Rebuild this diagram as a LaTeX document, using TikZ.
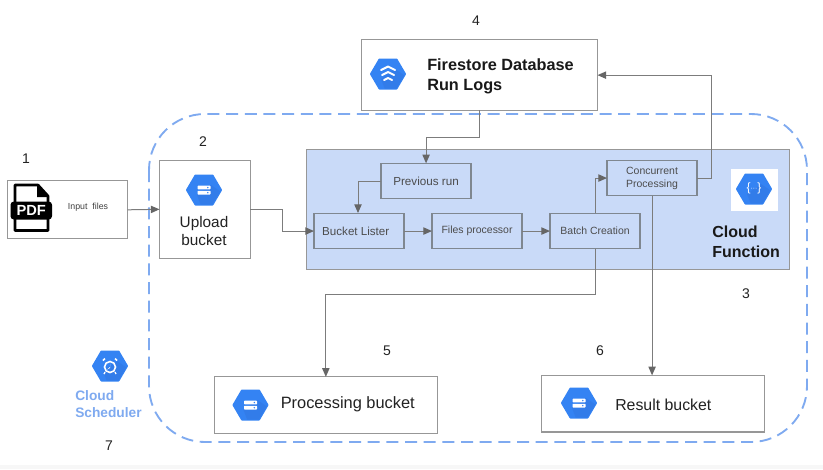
\documentclass[tikz,border=0pt]{standalone}
\usepackage{fontspec}
\setmainfont{Liberation Sans}
\usetikzlibrary{arrows.meta,calc}
\definecolor{linegray}{HTML}{979797}
\definecolor{innergray}{HTML}{7F8790}
\definecolor{arrowgray}{HTML}{666666}
\definecolor{connline}{HTML}{7C7C7C}
\definecolor{panelblue}{HTML}{C9DAF8}
\definecolor{dashblue}{HTML}{7FAAF0}
\definecolor{hexblue}{HTML}{3483F3}
\definecolor{hexshade}{HTML}{2F6FD8}
\definecolor{txt}{HTML}{222222}
\tikzset{
  box/.style={draw=linegray,line width=1pt,fill=white,inner sep=0pt,outer sep=0pt,align=center,text=txt},
  inner/.style={box,draw=innergray,fill=panelblue,minimum width=67.6pt,minimum height=26.6pt,font=\fontsize{7.85}{9.75}\selectfont,text=black!70},
  conn/.style={draw=connline,line width=0.75pt,-{Triangle[length=6.5pt,width=5.5pt,color=arrowgray,fill=arrowgray]}},
  num/.style={font=\fontsize{10.5}{12}\selectfont,text=txt,inner sep=0pt},
  title/.style={font=\fontsize{12.2}{15}\selectfont\bfseries,text=black!90,align=left,inner sep=0pt},
  big/.style={font=\fontsize{11.5}{13.5}\selectfont,text=txt,inner sep=0pt,align=center},
  hexfill/.style={fill=hexblue,draw=hexblue,line width=1.5pt,line join=round},
}
\newcommand{\hexshape}[2]{%
  \path[hexfill] (#1-17,#2) -- (#1-8.5,#2-14.5) -- (#1+8.5,#2-14.5) -- (#1+17,#2) -- (#1+8.5,#2+14.5) -- (#1-8.5,#2+14.5) -- cycle;
  \begin{scope}
    \clip (#1-17,#2) -- (#1-8.5,#2-14.5) -- (#1+8.5,#2-14.5) -- (#1+17,#2) -- (#1+8.5,#2+14.5) -- (#1-8.5,#2+14.5) -- cycle;
    \fill[hexshade,opacity=.35] (#1+7,#2-5) -- (#1+20,#2+4) -- (#1+10,#2+18) -- (#1-2,#2+18) -- (#1-7,#2+5) -- cycle;
  \end{scope}}
\newcommand{\bucketicon}[2]{%
  \hexshape{#1}{#2}
  \fill[white,rounded corners=0.5pt] (#1-6.5,#2-4.4) rectangle (#1+6.5,#2-0.6);
  \fill[white,rounded corners=0.5pt] (#1-6.5,#2+0.8) rectangle (#1+6.5,#2+4.6);
  \fill[hexblue] (#1+3.8,#2-2.5) circle (0.8) (#1+3.8,#2+2.7) circle (0.8);}
\begin{document}
\begin{tikzpicture}[x=0.75pt,y=-0.75pt]
\useasboundingbox (0,0) rectangle (823,469);
\fill[white] (0,0) rectangle (823,469);
\fill[black!3] (0,465) rectangle (823,469);

% scheduler boundary
\draw[dashblue,line width=1.4pt,dash pattern=on 9pt off 5pt,rounded corners=42pt] (149,114) rectangle (807,442);

% panel
\node[box,fill=panelblue,minimum width=362pt,minimum height=90pt,anchor=north west] (panel) at (306.5,149.3) {};

% boxes
\node[box,minimum width=90pt,minimum height=43.5pt,anchor=north west] (input) at (7.5,180.8) {};
\node[box,minimum width=68pt,minimum height=73.5pt,anchor=north west] (upload) at (159.5,160.3) {};
\node[box,minimum width=177pt,minimum height=53pt,anchor=north west] (fire) at (361.5,39.8) {};
\node[box,minimum width=167pt,minimum height=42.5pt,anchor=north west] (proc) at (214.5,376.8) {};
\node[box,minimum width=167pt,minimum height=42.5pt,anchor=north west] (result) at (541.5,375.3) {};

\node[inner,anchor=north west,font=\fontsize{8.75}{11}\selectfont] (prev) at (381,163.3) {Previous run};
\node[inner,anchor=north west,font=\fontsize{8.7}{11}\selectfont] (lister) at (314,213.3) {Bucket Lister\hspace{5pt}};
\node[inner,anchor=north west] (files) at (432,213.3) {Files processor};
\node[inner,anchor=north west] (batch) at (550,213.3) {Batch Creation};
\node[inner,anchor=north west] (conc) at (607,160.3) {Concurrent\\Processing};

% connectors
\draw[conn] (input.east) -- (upload.west);
\draw[conn] (upload.east) -- ++(32,0) |- (lister.west);
\draw[conn] (fire.south) -- ++(0,27) -| (prev.north);
\draw[conn] (prev.west) -- ++(-23,0) -- ++(0,32);
\draw[conn] (lister.east) -- (files.west);
\draw[conn] (files.east) -- (batch.west);
\draw[conn] (batch.north) |- (conc.west);
\draw[conn] (conc.east) -- ++(14,0) |- (fire.east);
\draw[conn] (batch.south) -- ++(0,46) -| (proc.north);
\draw[conn] (conc.south) -- (conc.south |- result.north);

% PDF icon
\draw[black,line width=2pt,line join=round,fill=white] (15,185) -- (38,185) -- (48,196) -- (48,230.5) -- (15,230.5) -- cycle;
\fill[black] (37,184) -- (49,197) -- (37,197) -- cycle;
\fill[black,rounded corners=2.5pt] (10.5,201.5) rectangle (52,219.5);
\node[inner sep=0pt,text=white,font=\fontsize{11}{11}\selectfont\bfseries] (pdftext) at (31.2,210.8) {PDF};
\node[inner sep=0pt,font=\fontsize{6.6}{8}\selectfont,text=black!75] (inputlabel) at (88,207) {Input\ \ files};

% upload
\bucketicon{204}{190}
\node[big] (uploadlabel) at (204,231.5) {Upload\\bucket};

% firestore
\hexshape{388}{74}
\begin{scope}[white,line width=1.5pt,line cap=round,line join=round]
  \draw (381,70) -- (388,66.5) -- (395,70);
  \draw (382,75) -- (388,72) -- (394,75);
  \draw (384,80) -- (388,78) -- (392,80);
\end{scope}
\node[title,anchor=west] (firelabel) at (427,76.5) {Firestore Database\\Run Logs};

% cloud function icon
\fill[white] (731,169) rectangle (778,211);
\hexshape{754}{189}
\node[inner sep=0pt,text=white,font=\fontsize{9}{9}\selectfont] (fnicon) at (754,188.5) {\{\raisebox{0.1ex}{\fontsize{5}{5}\selectfont···}\}};
\node[title,anchor=west,font=\fontsize{12}{15}\selectfont\bfseries] (fnlabel) at (712,241.5) {Cloud\\Function};

% processing & result
\bucketicon{250.5}{405}
\node[big,anchor=west,font=\fontsize{12.3}{14}\selectfont] (proclabel) at (280.5,404.5) {Processing bucket};
\bucketicon{579}{403}
\node[big,anchor=west,font=\fontsize{11.9}{14}\selectfont] (resultlabel) at (615,404.5) {Result bucket};

% scheduler
\hexshape{110}{366}
\begin{scope}[white]
  \draw[line width=1.2pt] (110,367) circle (5.5);
  \fill (110,363.5) -- (110,367) -- (107,369.5) arc[start angle=220,end angle=270,radius=4] -- cycle;
  \draw[line width=1.2pt] (103,360.5) -- (105,358.5) (117,360.5) -- (115,358.5);
  \draw[line width=1pt] (105,372) -- (104,374) (115,372) -- (116,374);
\end{scope}
\node[anchor=west,inner sep=0pt,align=left,text=dashblue,font=\fontsize{10.3}{12.8}\selectfont\bfseries] (schedlabel) at (75,404.5) {Cloud\\Scheduler};

% numbers
\node[num] (n1) at (26,159) {1};
\node[num] (n2) at (203,142) {2};
\node[num] (n3) at (746,293.5) {3};
\node[num] (n4) at (476,21) {4};
\node[num] (n5) at (387,351) {5};
\node[num] (n6) at (600,350.5) {6};
\node[num] (n7) at (109,445.5) {7};
\end{tikzpicture}
\end{document}
